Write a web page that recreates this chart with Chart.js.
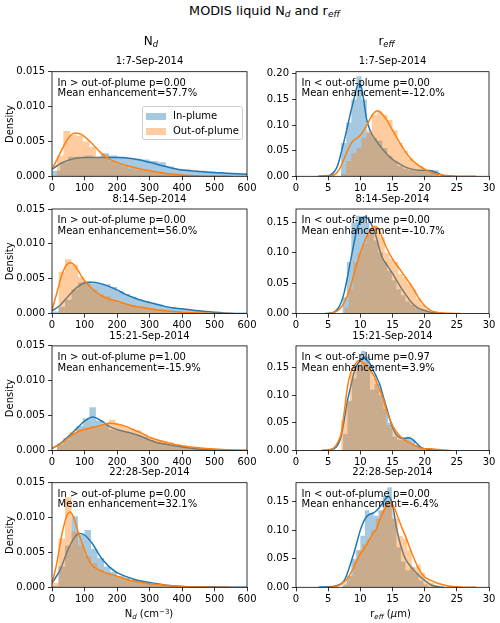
<!DOCTYPE html>
<html><head><meta charset="utf-8">
<script src="https://cdn.jsdelivr.net/npm/chart.js@4.4.1/dist/chart.umd.min.js"></script>
<style>
html,body{margin:0;padding:0;background:#fff;}
body{width:500px;height:623px;position:relative;overflow:hidden;font-family:'DejaVu Sans',sans-serif;color:#000;}
canvas{position:absolute;}
.t{position:absolute;white-space:nowrap;font-size:10px;line-height:10.8px;z-index:5;}
.c{transform:translateX(-50%);text-align:center;}
.sb{font-size:70%;font-style:italic;vertical-align:-0.25em;line-height:0;}
.sp{font-size:70%;vertical-align:0.45em;line-height:0;}
.lg{position:absolute;z-index:5;}
</style></head><body>
<script>
// ---------------- DATA ----------------
const dates = ['1:7-Sep-2014', '8:14-Sep-2014', '15:21-Sep-2014', '22:28-Sep-2014'];
const ndNotes = [['In > out-of-plume p=0.00', 'Mean enhancement=57.7%'], ['In > out-of-plume p=0.00', 'Mean enhancement=56.0%'], ['In > out-of-plume p=1.00', 'Mean enhancement=-15.9%'], ['In > out-of-plume p=0.00', 'Mean enhancement=32.1%']];
const reNotes = [['In < out-of-plume p=0.00', 'Mean enhancement=-12.0%'], ['In < out-of-plume p=0.00', 'Mean enhancement=-10.7%'], ['In < out-of-plume p=0.97', 'Mean enhancement=3.9%'], ['In < out-of-plume p=0.00', 'Mean enhancement=-6.4%']];
const ndTicks = [0, 100, 200, 300, 400, 500, 600];
const reTicks = [0, 5, 10, 15, 20, 25, 30];
const ndYMax = [0.015, 0.015, 0.015, 0.015];
const reYMax = [0.204, 0.172, 0.189, 0.183];

// histogram bins: [first bin edge, bin width], heights
const nd1InBins = [0, 25];
const nd1InHist = [0.0008,0.0020,0.0028,0.0028,0.0030,0.0027,0.0033,0.0030,0.0028,0.0026,0.0025,0.0024,0.0022,0.0020,0.0014,0.0011,0.0010,0.0009,0.0008,0.0007,0.0006,0.0005,0.0005,0.0004];
const nd1OutBins = [15, 20];
const nd1OutHist = [0.0030,0.0065,0.0060,0.0058,0.0050,0.0042,0.0028,0.0031,0.0022,0.0018,0.0014,0.0011,0.0009,0.0008,0.0008,0.0007,0.0005,0.0004,0.0003,0.0002,0.0001,0.0001];
const nd1InKdeX = [0,25,50,75,100,150,200,250,300,350,400,450,500,550,600];
const nd1InKdeY = [0.0010,0.0018,0.0023,0.0026,0.0027,0.0027,0.0027,0.0025,0.0020,0.0014,0.0009,0.0007,0.00055,0.0004,0.0003];
const nd1OutKdeX = [0,15,30,45,60,72,85,100,125,150,175,200,225,250,275,300,325,350,375,400,425,450,500,550];
const nd1OutKdeY = [0.0010,0.0024,0.0038,0.0051,0.0060,0.0062,0.0061,0.0057,0.0046,0.0034,0.0025,0.0020,0.0016,0.0013,0.0010,0.0008,0.0006,0.0004,0.0003,0.0002,0.0001,0.00005,0.00001,0];

const nd2InBins = [0, 20];
const nd2InHist = [0.0003,0.0010,0.0020,0.0035,0.0045,0.0046,0.0043,0.0043,0.0042,0.0038,0.0032,0.0028,0.0024,0.0021,0.0018,0.0015,0.0013,0.0010,0.0009,0.0008,0.0007,0.0005,0.0004,0.0003,0.0002,0.0002,0.0001];
const nd2OutBins = [20, 20];
const nd2OutHist = [0.0060,0.0078,0.0070,0.0052,0.0042,0.0035,0.0028,0.0025,0.0020,0.0016,0.0013,0.0012,0.0010,0.0009,0.0008,0.0006,0.0004,0.0003,0.0002,0.0002,0.0001];
const nd2InKdeX = [0,25,50,75,100,120,150,175,200,225,250,275,300,325,350,375,400,450,500,550,600];
const nd2InKdeY = [0.0004,0.0012,0.0025,0.0037,0.0044,0.0045,0.0043,0.0039,0.0034,0.0028,0.0023,0.0019,0.0016,0.0013,0.0010,0.0008,0.0007,0.0004,0.0002,0.00005,0];
const nd2OutKdeX = [0,15,30,45,58,70,85,100,125,150,175,200,225,250,275,300,325,350,375,400,450,500,550];
const nd2OutKdeY = [0.0005,0.0030,0.0055,0.0070,0.0073,0.0069,0.0058,0.0047,0.0035,0.0026,0.0021,0.0018,0.0014,0.0011,0.0009,0.0007,0.0005,0.0004,0.0003,0.0002,0.0001,0.00003,0];

const nd3InBins = [15, 20];
const nd3InHist = [0.0010,0.0018,0.0025,0.0035,0.0046,0.0062,0.0043,0.0038,0.0030,0.0029,0.0027,0.0025,0.0022,0.0019,0.0015,0.0012,0.0010,0.0008,0.0007,0.0005,0.0003,0.0002];
const nd3OutBins = [15, 20];
const nd3OutHist = [0.0008,0.0015,0.0027,0.0031,0.0033,0.0035,0.0035,0.0038,0.0044,0.0038,0.0035,0.0032,0.0029,0.0023,0.0018,0.0015,0.0014,0.0012,0.0009,0.0007,0.0006,0.0004,0.0003,0.0002,0.0001];
const nd3InKdeX = [0,25,50,75,100,125,150,175,200,225,250,275,300,325,350,375,400,450,500,550,600];
const nd3InKdeY = [0.0003,0.0010,0.0020,0.0031,0.0042,0.0048,0.0043,0.0035,0.0030,0.0027,0.0024,0.0020,0.0015,0.0011,0.0009,0.0007,0.0005,0.0002,0.0001,0.00003,0];
const nd3OutKdeX = [0,25,50,75,100,125,150,175,200,225,250,275,300,325,350,375,400,450,500,550,600];
const nd3OutKdeY = [0.0003,0.0009,0.0018,0.0026,0.0030,0.0033,0.0036,0.0039,0.0038,0.0035,0.0030,0.0025,0.0019,0.0015,0.0012,0.0009,0.0007,0.0004,0.0002,0.00008,0.00002];

const nd4InBins = [0, 20];
const nd4InHist = [0.0002,0.0030,0.0060,0.0102,0.0075,0.0082,0.0055,0.0042,0.0030,0.0022,0.0016,0.0014,0.0011,0.0008,0.0007,0.0005,0.0004,0.0003,0.0002,0.0001];
const nd4OutBins = [0, 20];
const nd4OutHist = [0.0006,0.0070,0.0129,0.0080,0.0060,0.0045,0.0035,0.0025,0.0020,0.0016,0.0015,0.0013,0.0010,0.0008,0.0007,0.0005,0.0003,0.0002,0.0001];
const nd4InKdeX = [0,25,50,70,85,100,125,150,175,200,225,250,275,300,325,350,375,400,450,500,550,600];
const nd4InKdeY = [0.0006,0.0025,0.0055,0.0072,0.0077,0.0075,0.0062,0.0043,0.0030,0.0021,0.0016,0.0012,0.0009,0.0007,0.0005,0.0003,0.0002,0.00012,0.00006,0.00003,0.00001,0];
const nd4OutKdeX = [0,15,30,45,55,65,80,95,110,125,150,175,200,225,250,275,300,325,350,375,400,450,500,550];
const nd4OutKdeY = [0.0005,0.0035,0.0075,0.0102,0.0108,0.0102,0.0080,0.0060,0.0042,0.0031,0.0024,0.0019,0.0016,0.0012,0.0009,0.0007,0.0005,0.0004,0.0003,0.0002,0.0001,0.00004,0.00001,0];

const re1InBins = [7.0, 0.8];
const re1InHist = [0.065,0.105,0.15,0.195,0.15,0.085,0.075,0.07,0.055,0.04,0.03,0.02,0.015,0.013,0.012,0.011,0.010,0.012,0.012];
const re1OutBins = [7.0, 0.8];
const re1OutHist = [0.005,0.03,0.045,0.055,0.075,0.09,0.12,0.127,0.12,0.11,0.09,0.065,0.05,0.035,0.025,0.02,0.012,0.008,0.004];
const re1InKdeX = [3.5,5,6,6.5,7,7.5,8,8.5,9,9.5,9.8,10.2,10.5,11,11.5,12,13,14,15,16,17,18,19,20,21,22,23,24];
const re1InKdeY = [0,0.001,0.01,0.022,0.045,0.07,0.097,0.125,0.15,0.175,0.18,0.172,0.15,0.11,0.09,0.078,0.06,0.045,0.033,0.025,0.018,0.014,0.012,0.012,0.011,0.006,0.001,0];
const re1OutKdeX = [3.5,5,6,7,7.5,8,8.5,9,10,11,12,12.7,13,14,15,16,17,18,19,20,21,22,23,24,25,28];
const re1OutKdeY = [0,0.0005,0.003,0.02,0.035,0.05,0.063,0.07,0.08,0.10,0.122,0.128,0.126,0.112,0.09,0.068,0.048,0.032,0.022,0.014,0.008,0.004,0.002,0.001,0.0003,0];

const re2InBins = [7.2, 0.7];
const re2InHist = [0.027,0.085,0.15,0.161,0.16,0.15,0.14,0.12,0.10,0.085,0.07,0.055,0.04,0.03,0.02,0.015,0.01,0.006,0.004,0.002];
const re2OutBins = [7.5, 0.7];
const re2OutHist = [0.01,0.04,0.085,0.10,0.115,0.13,0.145,0.14,0.125,0.10,0.09,0.085,0.065,0.06,0.05,0.04,0.025,0.015,0.008,0.004];
const re2InKdeX = [4.5,5.5,6,6.5,7,7.5,8,8.5,9,9.5,10,10.7,11.3,12,12.5,13,13.5,14,15,16,17,18,19,20,21,22,23];
const re2InKdeY = [0,0.001,0.003,0.008,0.018,0.035,0.06,0.088,0.115,0.14,0.152,0.159,0.155,0.14,0.125,0.105,0.09,0.082,0.066,0.048,0.032,0.018,0.009,0.005,0.002,0.001,0];
const re2OutKdeX = [5,6,7,7.5,8,8.5,9,9.5,10,11,12,12.5,13,14,15,16,17,18,19,20,21,22,23,24,25.5];
const re2OutKdeY = [0,0.002,0.01,0.018,0.03,0.045,0.065,0.083,0.10,0.127,0.142,0.143,0.135,0.11,0.09,0.075,0.06,0.045,0.027,0.013,0.005,0.002,0.001,0.0005,0];

const re3InBins = [7.3, 0.7];
const re3InHist = [0.03,0.09,0.13,0.155,0.18,0.17,0.11,0.12,0.10,0.075,0.05,0.025,0.02,0.022,0.025,0.02,0.01,0.005];
const re3OutBins = [7.0, 0.7];
const re3OutHist = [0.055,0.09,0.14,0.15,0.16,0.16,0.145,0.13,0.11,0.09,0.046,0.04,0.03,0.02,0.02,0.012,0.008,0.004,0.002,0.001,0.001,0.002];
const re3InKdeX = [4,5,6,6.5,7,7.5,8,8.5,9,9.5,10,10.5,11,11.5,12,12.5,13,13.5,14,14.5,15,15.5,16,16.5,17,17.5,18,18.5,19,19.5,20,21,22];
const re3InKdeY = [0,0.001,0.004,0.01,0.025,0.055,0.09,0.115,0.14,0.155,0.162,0.168,0.163,0.157,0.145,0.133,0.12,0.10,0.08,0.06,0.042,0.03,0.024,0.022,0.022,0.023,0.021,0.016,0.01,0.005,0.003,0.001,0];
const re3OutKdeX = [4,5,6,6.5,7,7.5,8,8.5,9,9.7,10.5,11,12,13,13.5,14,15,16,17,18,19,20,21,22,23,24];
const re3OutKdeY = [0,0.001,0.006,0.015,0.03,0.07,0.115,0.14,0.152,0.162,0.158,0.152,0.137,0.11,0.095,0.075,0.045,0.028,0.018,0.012,0.006,0.003,0.003,0.002,0.001,0];

const re4InBins = [7.2, 0.7];
const re4InHist = [0.005,0.02,0.05,0.065,0.09,0.135,0.13,0.125,0.135,0.16,0.175,0.12,0.07,0.045,0.03,0.035,0.025,0.012,0.005];
const re4OutBins = [7.5, 0.7];
const re4OutHist = [0.01,0.02,0.045,0.065,0.075,0.085,0.10,0.12,0.135,0.145,0.145,0.12,0.09,0.085,0.065,0.035,0.04,0.025,0.012,0.008,0.004];
const re4InKdeX = [3.5,5,6,7,7.5,8,8.5,9,9.5,10,10.5,11,11.5,12,12.5,13,13.5,14,14.4,14.8,15.2,15.6,16,16.5,17,18,19,20,21,22,23];
const re4InKdeY = [0,0.001,0.002,0.006,0.012,0.025,0.042,0.06,0.08,0.10,0.115,0.124,0.128,0.13,0.134,0.14,0.148,0.156,0.159,0.152,0.133,0.105,0.085,0.065,0.05,0.034,0.022,0.012,0.004,0.001,0];
const re4OutKdeX = [5,6,7,7.5,8,8.5,9,9.5,10,11,12,12.5,13,13.5,14,14.6,15,15.5,16,16.5,17,18,19,20,21,22,23,24,25,26,28];
const re4OutKdeY = [0,0.001,0.005,0.01,0.015,0.025,0.035,0.048,0.058,0.075,0.095,0.102,0.118,0.13,0.142,0.15,0.145,0.133,0.118,0.103,0.09,0.06,0.034,0.018,0.012,0.007,0.004,0.002,0.001,0.0003,0];

// ---------------- LAYOUT / STYLE ----------------
const BLUE = '#1f77b4', ORANGE = '#ff7f0e';
const BLUE_A = 'rgba(31,119,180,0.4)', ORANGE_A = 'rgba(255,127,14,0.4)';
const FONT = {family: 'DejaVu Sans', size: 10};
Chart.defaults.font = FONT;
Chart.defaults.color = '#000';

const leftCol = {x0: 0, yW: 52, w: 195, padR: 14};
const rightCol = {x0: 250, yW: 46, w: 193, padR: 11};
const rowTops = [71.7, 209, 345.9, 482.7];
const rowH = 104.6;

const panels = [
  {col: leftCol, ticks: ndTicks, ymax: ndYMax, ystep: 0.005, dec: 3, notes: ndNotes, rows: [
    [nd1InBins, nd1InHist, nd1OutBins, nd1OutHist, nd1InKdeX, nd1InKdeY, nd1OutKdeX, nd1OutKdeY],
    [nd2InBins, nd2InHist, nd2OutBins, nd2OutHist, nd2InKdeX, nd2InKdeY, nd2OutKdeX, nd2OutKdeY],
    [nd3InBins, nd3InHist, nd3OutBins, nd3OutHist, nd3InKdeX, nd3InKdeY, nd3OutKdeX, nd3OutKdeY],
    [nd4InBins, nd4InHist, nd4OutBins, nd4OutHist, nd4InKdeX, nd4InKdeY, nd4OutKdeX, nd4OutKdeY]]},
  {col: rightCol, ticks: reTicks, ymax: reYMax, ystep: 0.05, dec: 2, notes: reNotes, rows: [
    [re1InBins, re1InHist, re1OutBins, re1OutHist, re1InKdeX, re1InKdeY, re1OutKdeX, re1OutKdeY],
    [re2InBins, re2InHist, re2OutBins, re2OutHist, re2InKdeX, re2InKdeY, re2OutKdeX, re2OutKdeY],
    [re3InBins, re3InHist, re3OutBins, re3OutHist, re3InKdeX, re3InKdeY, re3OutKdeX, re3OutKdeY],
    [re4InBins, re4InHist, re4OutBins, re4OutHist, re4InKdeX, re4InKdeY, re4OutKdeX, re4OutKdeY]]}
];

// histogram outline as step points at bin edges (closed to 0 after the last bin)
function hist(bins, heights) {
  const pts = heights.map((h, i) => ({x: bins[0] + i * bins[1], y: h}));
  pts.push({x: bins[0] + heights.length * bins[1], y: 0});
  return pts;
}
function curve(xs, ys) { return xs.map((x, i) => ({x: x, y: ys[i]})); }

const framePlugin = {
  id: 'frame',
  afterDatasetsDraw(chart) {
    const {ctx, chartArea: a} = chart;
    ctx.save();
    ctx.strokeStyle = '#000';
    ctx.lineWidth = 0.8;
    ctx.strokeRect(a.left, a.top, a.right - a.left, a.bottom - a.top);
    ctx.restore();
  }
};

function addText(html, x, y, cls) {
  const d = document.createElement('div');
  d.className = 't' + (cls ? ' ' + cls : '');
  d.style.left = x + 'px';
  d.style.top = y + 'px';
  d.innerHTML = html;
  document.body.appendChild(d);
  return d;
}

panels.forEach((p, pi) => {
  const col = p.col;
  const xmin = p.ticks[0], xmax = p.ticks[p.ticks.length - 1];
  const xstep = p.ticks[1] - p.ticks[0];
  p.rows.forEach((r, ri) => {
    const t = rowTops[ri];
    const top = Math.floor(t) - 9;
    const padT = t - top;
    const H = Math.ceil(padT + rowH + 20);
    const xH = H - padT - rowH;
    const W = col.yW + col.w + col.padR;
    const cv = document.createElement('canvas');
    cv.width = W; cv.height = H;
    cv.style.left = col.x0 + 'px'; cv.style.top = top + 'px';
    cv.style.width = W + 'px'; cv.style.height = H + 'px';
    document.body.appendChild(cv);
    const gridOpts = {drawOnChartArea: false, drawTicks: true, tickLength: 4, color: '#000', lineWidth: 0.8, offset: false};
    const histStyle = {borderColor: 'rgba(0,0,0,0)', borderWidth: 0, pointRadius: 0, stepped: true, fill: 'origin'};
    const kdeStyle = {borderWidth: 1.5, pointRadius: 0, fill: false, cubicInterpolationMode: 'monotone'};
    new Chart(cv, {
      type: 'line',
      data: {datasets: [
        Object.assign({label: 'In-plume', data: hist(r[0], r[1]), backgroundColor: BLUE_A, order: 4}, histStyle),
        Object.assign({label: 'In-plume KDE', data: curve(r[4], r[5]), borderColor: BLUE, order: 3}, kdeStyle),
        Object.assign({label: 'Out-of-plume', data: hist(r[2], r[3]), backgroundColor: ORANGE_A, order: 2}, histStyle),
        Object.assign({label: 'Out-of-plume KDE', data: curve(r[6], r[7]), borderColor: ORANGE, order: 1}, kdeStyle)
      ]},
      options: {
        responsive: false, animation: false, events: [],
        layout: {padding: {top: padT, right: col.padR, left: 0, bottom: 0}},
        plugins: {legend: {display: false}, tooltip: {enabled: false}},
        scales: {
          x: {type: 'linear', position: 'bottom', min: xmin, max: xmax, offset: false,
              ticks: {stepSize: xstep, autoSkip: false, maxRotation: 0, color: '#000', font: FONT, padding: 2},
              grid: gridOpts, border: {display: false},
              afterFit(s) { s.height = xH; }},
          y: {type: 'linear', min: 0, max: p.ymax[ri],
              ticks: {stepSize: p.ystep, includeBounds: false, color: '#000', font: FONT, padding: 3,
                      callback: v => Number(v).toFixed(p.dec)},
              grid: gridOpts, border: {display: false},
              title: {display: pi === 0, text: 'Density', color: '#000', font: FONT, padding: {top: 4, bottom: 0}},
              afterFit(s) { s.width = col.yW; }}
        }
      },
      plugins: [framePlugin]
    });
    const cx = col.x0 + col.yW + col.w / 2;
    addText(dates[ri], cx, t - 15.3, 'c');
    addText(p.notes[ri][0] + '<br>' + p.notes[ri][1], col.x0 + col.yW + 5.5, t + 6);
  });
});

// titles
const tt = addText('MODIS liquid N<span class="sb">d</span> and r<span class="sb">eff</span>', 264.5, 2.8, 'c');
tt.style.fontSize = '12.8px'; tt.style.lineHeight = '15px';
const c1 = addText('N<span class="sb">d</span>', 151, 33.7, 'c');
c1.style.fontSize = '12px'; c1.style.lineHeight = '14px';
const c2 = addText('r<span class="sb">eff</span>', 386.5, 33.7, 'c');
c2.style.fontSize = '12px'; c2.style.lineHeight = '14px';
addText('N<span class="sb">d</span> (cm<span class="sp">\u22123</span>)', 149, 608.7, 'c');
addText('r<span class="sb">eff</span> (<i>\u03bc</i>m)', 390.5, 608.7, 'c');

// legend (first N_d panel)
function lg(css) { const d = document.createElement('div'); d.className = 'lg'; Object.assign(d.style, css); document.body.appendChild(d); return d; }
lg({left: '142px', top: '106px', width: '101px', height: '34px', boxSizing: 'border-box', border: '1px solid #cccccc', borderRadius: '2.5px', background: 'rgba(255,255,255,0.8)'});
lg({left: '145.5px', top: '112.5px', width: '20px', height: '7px', background: BLUE_A});
lg({left: '145.5px', top: '127.5px', width: '20px', height: '7px', background: ORANGE_A});
addText('In-plume', 173, 111.2);
addText('Out-of-plume', 173, 125.7);
</script>
</body></html>
